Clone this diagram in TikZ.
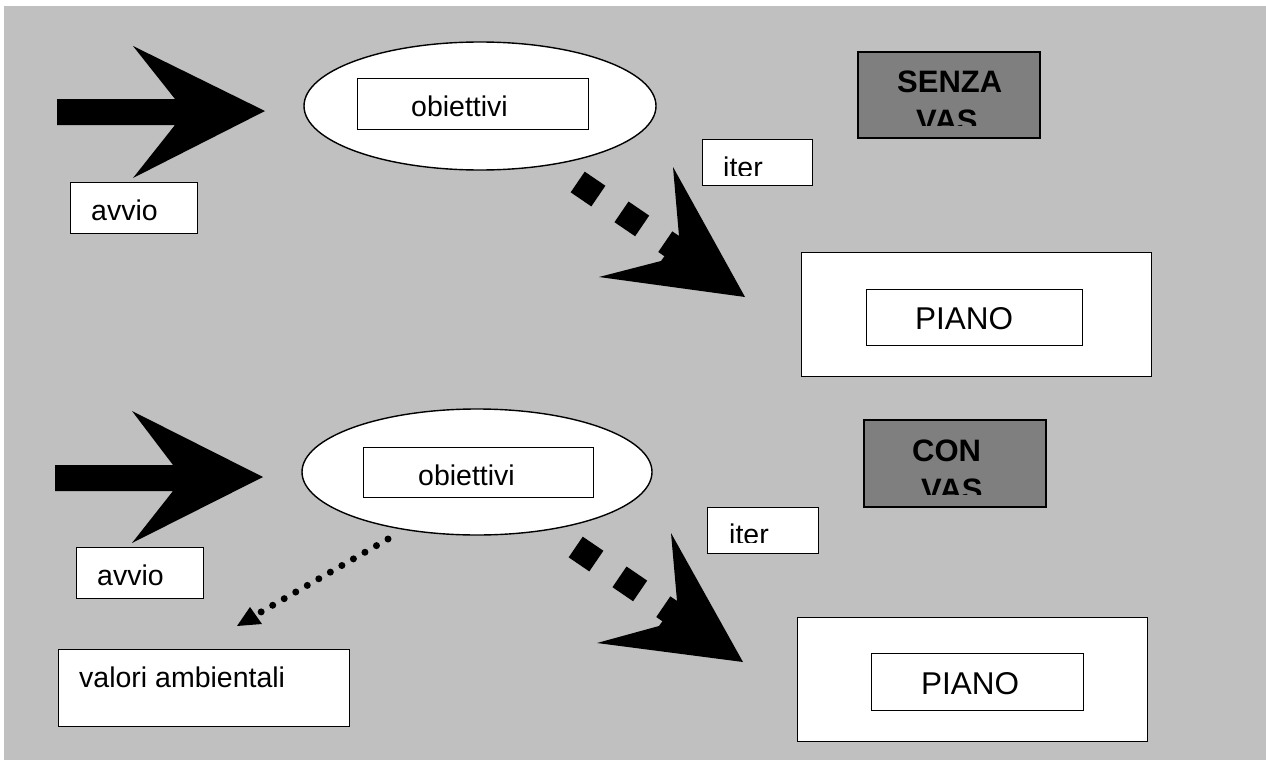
\documentclass[tikz,border=0pt]{standalone}
\usepackage{fontspec}
\setmainfont{Liberation Sans}
\usetikzlibrary{shapes.geometric}
\newcommand{\txt}[1]{\fontsize{28.5}{34}\selectfont #1}
\newcommand{\bigtxt}[1]{\fontsize{31.5}{36}\selectfont #1}
\newcommand{\boldtxt}[1]{\fontsize{31}{36}\selectfont\bfseries #1}
\definecolor{bggray}{HTML}{C0C0C0}
\definecolor{darkbox}{HTML}{7F7F7F}
\tikzset{
  box/.style={draw=black, line width=1.4pt, fill=white, inner sep=0pt, anchor=north west},
  darkb/.style={draw=black, line width=1.6pt, fill=darkbox, inner sep=0pt, anchor=north west},
  oval/.style={ellipse, draw=black, line width=1.4pt, fill=white, inner sep=0pt},
  lbl/.style={inner sep=0pt, anchor=base west, text=black},
  bigarrow/.style={fill=black, draw=none},
  squares/.style={line width=25pt, dash pattern=on 25pt off 28pt, draw=black},
  dots/.style={line width=7pt, line cap=round, dash pattern=on 0pt off 13.3pt, draw=black}
}
\begin{document}
\begin{tikzpicture}[x=1pt, y=-1pt]
\useasboundingbox (0,0) rectangle (1266,760);
\fill[bggray] (4,6) rectangle (1266,760);

% ---------- top section ----------
\fill[bigarrow] (57,99) -- (175,99) -- (133,46) -- (265,111) -- (133,178) -- (175,125) -- (57,125) -- cycle;
\node[box, minimum width=127pt, minimum height=51pt] (avvioA) at (70,182) {};
\node[lbl] (avvioAt) at (91,220) {\txt{avvio}};

\node[oval, minimum width=352pt, minimum height=128pt] (ellA) at (480,106) {};
\node[box, minimum width=231pt, minimum height=51pt] (obA) at (357,78) {};
\node[lbl] (obAt) at (411,116) {\txt{obiettivi}};

\node[box, minimum width=110pt, minimum height=46pt] (iterA) at (702,139) {};
\begin{scope}
  \clip (702,139) rectangle (812,175.5);
  \node[lbl] (iterAt) at (723,177.5) {\txt{iter}};
\end{scope}

\node[darkb, minimum width=182pt, minimum height=86pt] (senza) at (857,51) {};
\begin{scope}
  \clip (857,51) rectangle (1039,125);
  \node[lbl] (senzaT) at (897,92.7) {\boldtxt{SENZA}};
  \node[lbl] (vasA) at (916,131) {\boldtxt{VAS}};
\end{scope}

\node[box, minimum width=350pt, minimum height=124pt] (pianoA) at (801,252) {};
\node[box, minimum width=216pt, minimum height=56pt] (pianoAin) at (866,289) {};
\node[lbl] (pianoAt) at (915,329) {\bigtxt{PIANO}};

\coordinate (sqA1) at (577.7,182);
\coordinate (sqA2) at (676,249);
\draw[squares] (sqA1) -- (sqA2);
\coordinate (tipA) at (745,297);
\fill[bigarrow] (tipA) -- (673,167) -- (679,236) -- (661,261) -- (599,277) -- cycle;

% ---------- bottom section ----------
\fill[bigarrow] (55,465) -- (173,465) -- (132,411) -- (263,477) -- (132,543) -- (173,491) -- (55,491) -- cycle;
\node[box, minimum width=127pt, minimum height=51pt] (avvioB) at (76,547) {};
\node[lbl] (avvioBt) at (97,585) {\txt{avvio}};

\node[oval, minimum width=350pt, minimum height=126pt] (ellB) at (477,472) {};
\node[box, minimum width=230pt, minimum height=50pt] (obB) at (363,447) {};
\node[lbl] (obBt) at (418,485) {\txt{obiettivi}};

\node[box, minimum width=111pt, minimum height=46pt] (iterB) at (707,507) {};
\begin{scope}
  \clip (707,507) rectangle (818,542.5);
  \node[lbl] (iterBt) at (729,544.5) {\txt{iter}};
\end{scope}

\node[darkb, minimum width=182pt, minimum height=87pt] (con) at (863,419) {};
\begin{scope}
  \clip (863,419) rectangle (1045,494);
  \node[lbl] (conT) at (912,461) {\boldtxt{CON}};
  \node[lbl] (vasB) at (921,500) {\boldtxt{VAS}};
\end{scope}

\node[box, minimum width=350pt, minimum height=124pt] (pianoB) at (797,617) {};
\node[box, minimum width=212pt, minimum height=57pt] (pianoBin) at (871,653) {};
\node[lbl] (pianoBt) at (921,694) {\bigtxt{PIANO}};

\coordinate (sqB1) at (575.7,547);
\coordinate (sqB2) at (674,614);
\draw[squares] (sqB1) -- (sqB2);
\coordinate (tipB) at (743,662);
\fill[bigarrow] (tipB) -- (671,533) -- (677,601) -- (659,626) -- (597,643) -- cycle;

\node[box, minimum width=291pt, minimum height=77pt] (valori) at (58,649) {};
\node[lbl] (valoriT) at (79,687) {\txt{valori ambientali}};

\coordinate (dotS) at (388,539);
\coordinate (dotE) at (261,612);
\draw[dots] (dotS) -- (dotE);
\fill[bigarrow] (237,626) -- (250,607) -- (262,624) -- cycle;
\end{tikzpicture}
\end{document}
